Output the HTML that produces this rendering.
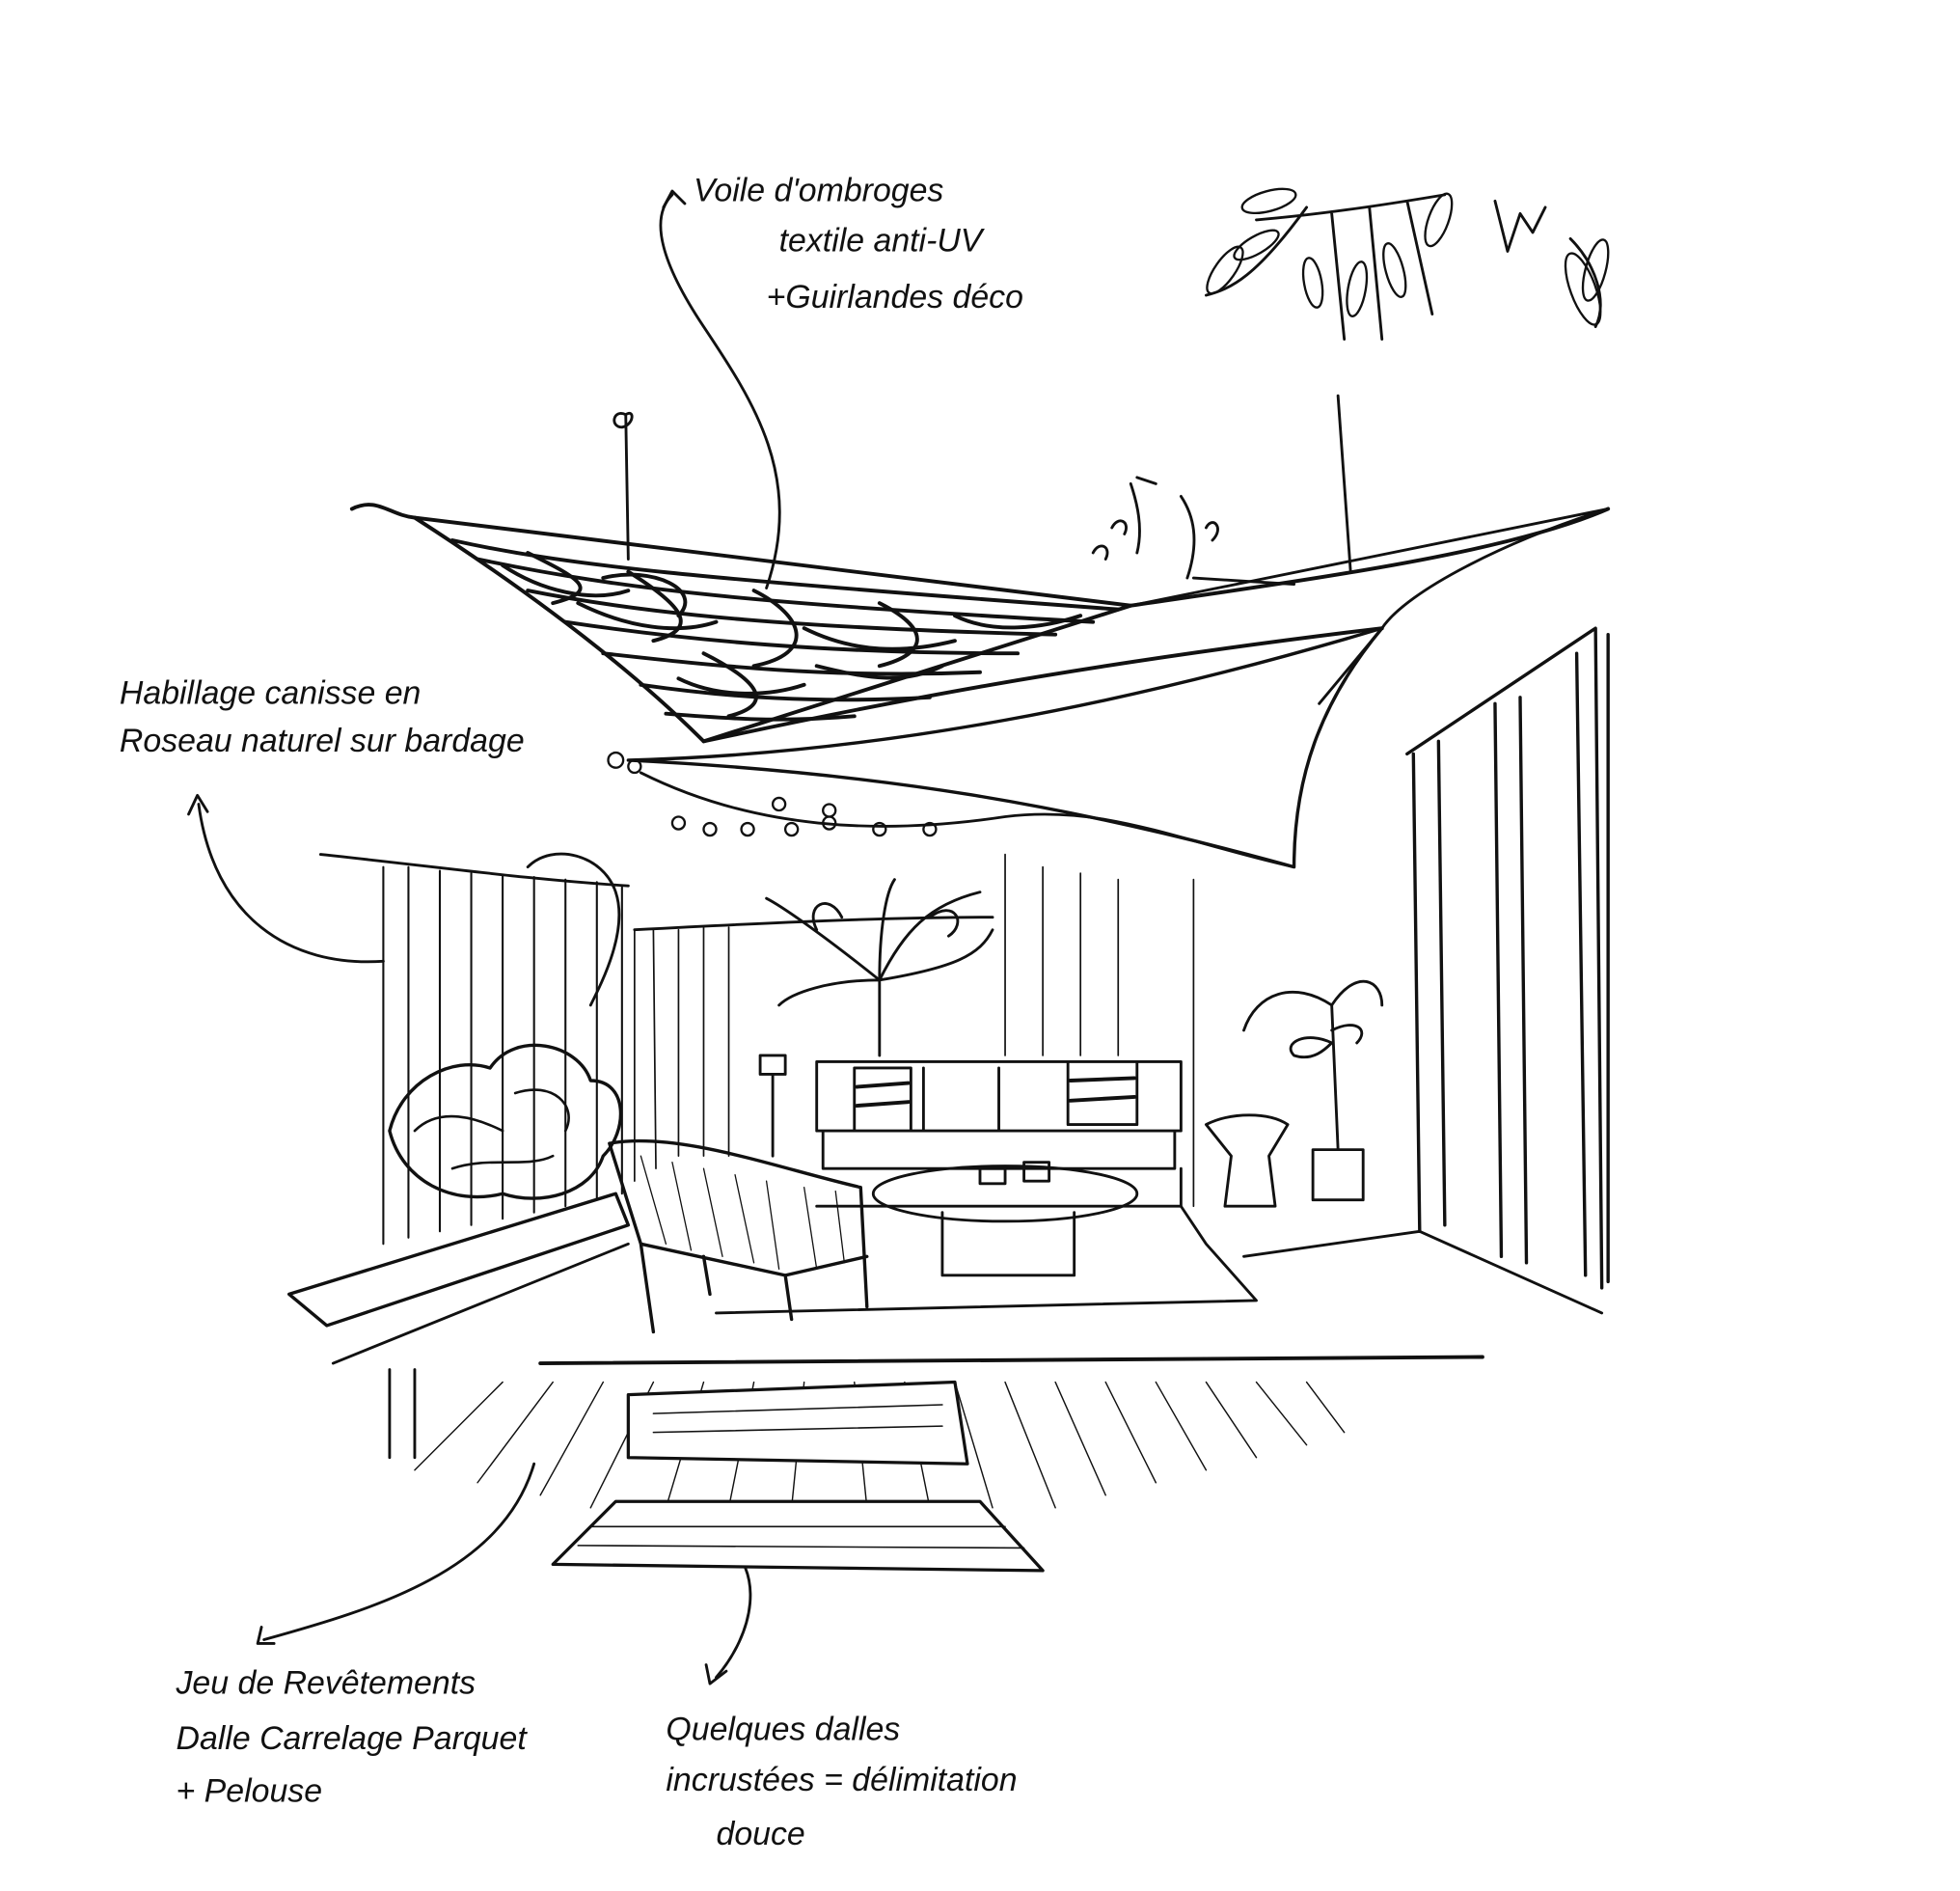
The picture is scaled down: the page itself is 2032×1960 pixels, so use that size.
<!DOCTYPE html>
<html><head><meta charset="utf-8"><style>
html,body{margin:0;padding:0;background:#fff;}
svg{display:block}
text{font-family:"Liberation Sans",sans-serif;font-style:italic;fill:#111;font-size:26px}
</style></head><body>
<svg width="2032" height="1960" viewBox="0 0 1560 1505" xmlns="http://www.w3.org/2000/svg">
<g fill="none" stroke="#111" stroke-width="2.2" stroke-linecap="round" stroke-linejoin="round">
<!-- labels arrows -->
<path d="M610 468 C640 380 600 320 560 260 C520 200 520 170 535 155"/>
<path d="M528 165 L535 152 L545 162"/>
<path d="M305 765 C230 770 170 730 158 640"/>
<path d="M150 648 L157 633 L165 646"/>
<path d="M425 1165 C400 1250 300 1280 210 1305"/>
<path d="M208 1295 L205 1308 L218 1308"/>
<path d="M575 1225 C610 1250 600 1300 570 1335"/>
<path d="M562 1325 L565 1340 L578 1330"/>
<!-- poles -->
<path d="M500 445 L498 330 M498 330 C488 325 485 340 495 340 C505 338 505 325 498 330"/>
<path d="M1075 455 L1065 315"/>
<!-- main sail -->
<path d="M280 405 C300 395 310 410 330 412 L900 482 C1050 460 1200 440 1280 405" stroke-width="3"/>
<path d="M330 412 C420 470 500 530 560 590 C700 560 850 530 1100 500" stroke-width="3"/>
<path d="M560 590 L900 482" stroke-width="3"/>
<path d="M900 482 L1280 405 C1200 430 1120 470 1100 500"/>
<!-- hatch dark area -->
<g stroke-width="3">
<path d="M360 430 C450 450 550 460 890 485 M380 445 C500 470 600 480 870 495 M420 470 C520 490 640 500 840 505 M450 495 C550 510 660 520 810 520 M480 520 C570 530 660 540 780 535 M510 545 C580 555 650 560 740 555 M530 568 C580 572 620 575 680 570"/>
<path d="M420 440 C460 460 480 470 440 480 M500 455 C540 480 560 500 520 510 M600 470 C640 490 650 520 600 530 M700 480 C740 500 740 520 700 530 M560 520 C600 540 620 560 580 570"/>
<path d="M400 450 C430 470 470 480 500 470 M460 480 C500 500 540 505 570 495 M640 500 C680 520 720 520 760 510 M540 540 C570 555 610 555 640 545 M760 490 C790 505 830 500 860 490 M480 460 C520 450 560 470 540 490 M650 530 C690 540 720 545 750 530"/>
</g>
<!-- second sail -->
<path d="M500 605 C700 600 900 560 1100 500 C1050 560 1030 620 1030 690 C850 640 700 615 500 605" stroke-width="2.6"/>
<path d="M1050 560 L1100 500"/>
<!-- garland -->
<path d="M510 615 C600 660 700 665 800 650 C880 640 940 670 1030 690"/>
<g stroke-width="1.8">
<circle cx="540" cy="655" r="5"/><circle cx="565" cy="660" r="5"/><circle cx="595" cy="660" r="5"/><circle cx="630" cy="660" r="5"/><circle cx="660" cy="655" r="5"/><circle cx="700" cy="660" r="5"/><circle cx="740" cy="660" r="5"/><circle cx="620" cy="640" r="5"/><circle cx="660" cy="645" r="5"/>
<circle cx="490" cy="605" r="6"/><circle cx="505" cy="610" r="5"/>
</g>
<!-- back wall lines -->
<path d="M505 740 C600 735 700 730 790 730"/>
<g stroke-width="1.3">
<path d="M505 740 L505 940 M520 740 L522 930 M540 740 L540 920 M560 738 L560 920 M580 738 L580 920 M800 680 L800 840 M830 690 L830 840 M860 695 L860 840 M890 700 L890 840 M950 700 L950 960"/>
</g>
<!-- left fence -->
<path d="M255 680 C350 690 420 700 500 705"/>
<g stroke-width="1.6">
<path d="M305 690 L305 990 M325 690 L325 985 M350 693 L350 980 M375 695 L375 975 M400 697 L400 970 M425 698 L425 965 M450 700 L450 960 M475 702 L475 955 M495 705 L495 950"/>
</g>
<!-- bush -->
<path d="M310 900 C320 860 360 840 390 850 C410 820 460 830 470 860 C500 860 500 900 480 920 C470 950 430 960 400 950 C360 960 320 940 310 900" stroke-width="2.6"/>
<path d="M330 900 C350 880 380 890 400 900 M410 870 C440 860 460 880 450 900 M360 930 C390 920 420 930 440 920" stroke-width="2"/>
<path d="M420 690 C440 670 480 680 490 710 C500 740 480 780 470 800"/>
<!-- planter bench -->
<path d="M230 1030 L490 950 L500 975 L260 1055 Z" stroke-width="2.6"/>
<path d="M265 1085 L500 990"/>
<path d="M310 1090 L310 1160 M330 1090 L330 1160"/>
<!-- right door -->
<path d="M1120 600 L1270 500 L1275 1025 M1125 600 L1130 980 M1145 590 L1150 975 M1190 560 L1195 1000 M1210 555 L1215 1005 M1255 520 L1262 1015 M1280 505 L1280 1020" stroke-width="2.6"/>
<path d="M1130 980 L1275 1045"/>
<!-- floor -->
<path d="M430 1085 L1180 1080" stroke-width="3"/>
<path d="M570 1045 L1000 1035 L960 990 L940 960"/>
<path d="M990 1000 L1130 980"/>
<!-- floor planks -->
<g stroke-width="1.1">
<path d="M400 1100 L330 1170 M440 1100 L380 1180 M480 1100 L430 1190 M520 1100 L470 1200 M560 1100 L530 1200 M600 1100 L580 1200 M640 1100 L630 1200 M680 1100 L690 1200 M720 1100 L740 1200 M760 1100 L790 1200 M800 1100 L840 1200 M840 1100 L880 1190 M880 1100 L920 1180 M920 1100 L960 1170 M960 1100 L1000 1160 M1000 1100 L1040 1150 M1040 1100 L1070 1140"/>
</g>
<path d="M500 1110 L760 1100 L770 1165 L500 1160 Z" fill="#fff" stroke-width="2.5"/>
<path d="M490 1195 L780 1195 L830 1250 L440 1245 Z" fill="#fff" stroke-width="2.5"/>
<g stroke-width="1.2"><path d="M520 1125 L750 1118 M520 1140 L750 1135 M470 1215 L800 1215 M460 1230 L815 1232"/></g>
<!-- sofa -->
<path d="M650 845 L940 845 L940 900 L650 900 Z M655 900 L655 930 L935 930 L935 900 M735 850 L735 900 M795 850 L795 900 M650 960 L940 960 L940 930"/>
<path d="M680 850 L725 850 L725 900 L680 900 Z M850 845 L905 845 L905 895 L850 895 Z" fill="#fff"/>
<path d="M682 865 L723 862 M682 880 L723 877 M852 860 L903 858 M852 876 L903 873" stroke-width="3"/>
<!-- plant -->
<path d="M700 840 L700 780 M700 780 C650 740 620 720 610 715 M700 780 C720 740 740 720 780 710 M700 780 C760 770 780 760 790 740 M700 780 C660 780 630 790 620 800"/>
<path d="M650 740 C640 720 660 710 670 730 M740 730 C760 715 770 735 755 745 M700 780 C700 740 705 710 712 700"/>
<!-- lamp -->
<path d="M605 840 L625 840 L625 855 L605 855 Z M615 855 L615 920"/>
<!-- table -->
<ellipse cx="800" cy="950" rx="105" ry="22"/>
<path d="M750 965 L750 1015 L855 1015 L855 965"/>
<path d="M780 930 L800 930 L800 942 L780 942 Z M815 925 L835 925 L835 940 L815 940 Z"/>
<!-- chair -->
<path d="M485 910 C540 900 620 930 685 945 L690 1040 M485 910 L510 990 L520 1060 M510 990 L625 1015 L630 1050 M560 1000 L565 1030 M625 1015 L690 1000" stroke-width="2.6"/>
<g stroke-width="1"><path d="M510 920 L530 990 M535 925 L550 995 M560 930 L575 1000 M585 935 L600 1005 M610 940 L620 1010 M640 945 L650 1010 M665 948 L672 1005"/></g>
<!-- side table & pot -->
<path d="M960 895 C980 885 1010 885 1025 895 L1010 920 L1015 960 L975 960 L980 920 Z"/>
<path d="M1045 915 L1085 915 L1085 955 L1045 955 Z M1065 915 L1060 800"/>
<path d="M1060 800 C1030 780 1000 790 990 820 M1060 800 C1080 770 1100 780 1100 800 M1060 830 C1040 820 1020 830 1030 840 C1045 845 1055 835 1060 830 M1060 820 C1080 810 1090 820 1080 830"/>
<!-- hanging leaves top right -->
<path d="M1000 175 C1060 170 1120 160 1150 155 M1040 165 C1000 220 980 230 960 235 M1060 170 L1070 270 M1090 165 L1100 270 M1120 160 L1140 250"/>
<g stroke-width="1.8">
<ellipse cx="1010" cy="160" rx="22" ry="8" transform="rotate(-15 1010 160)"/>
<ellipse cx="975" cy="215" rx="8" ry="22" transform="rotate(35 975 215)"/>
<ellipse cx="1045" cy="225" rx="7" ry="20" transform="rotate(-10 1045 225)"/>
<ellipse cx="1080" cy="230" rx="7" ry="22" transform="rotate(10 1080 230)"/>
<ellipse cx="1110" cy="215" rx="7" ry="22" transform="rotate(-15 1110 215)"/>
<ellipse cx="1145" cy="175" rx="8" ry="22" transform="rotate(20 1145 175)"/>
<ellipse cx="1260" cy="230" rx="10" ry="30" transform="rotate(-20 1260 230)"/>
<ellipse cx="1270" cy="215" rx="8" ry="25" transform="rotate(15 1270 215)"/>
<ellipse cx="1000" cy="195" rx="20" ry="7" transform="rotate(-30 1000 195)"/>
</g>
<path d="M1190 160 L1200 200 L1210 170 L1220 185 L1230 165 M1250 190 C1270 210 1280 240 1270 260"/>
<!-- small plants on sail -->
<path d="M900 385 C905 400 910 420 905 440 M940 395 C950 410 955 430 945 460 M950 460 L1030 465 M870 440 C875 430 885 435 880 445 M885 420 C890 410 900 415 895 425 M905 380 L920 385 M960 420 C965 410 975 420 965 430"/>
</g>
<g>
<text x="552" y="160">Voile d'ombroges</text>
<text x="620" y="200">textile anti-UV</text>
<text x="610" y="245">+Guirlandes déco</text>
<text x="95" y="560" font-size="24">Habillage canisse en</text>
<text x="95" y="598" font-size="24">Roseau naturel sur bardage</text>
<text x="140" y="1348">Jeu de Revêtements</text>
<text x="140" y="1392">Dalle Carrelage Parquet</text>
<text x="140" y="1434">+ Pelouse</text>
<text x="530" y="1385">Quelques dalles</text>
<text x="530" y="1425">incrustées = délimitation</text>
<text x="570" y="1468">douce</text>
</g>
</svg>
</body></html>
